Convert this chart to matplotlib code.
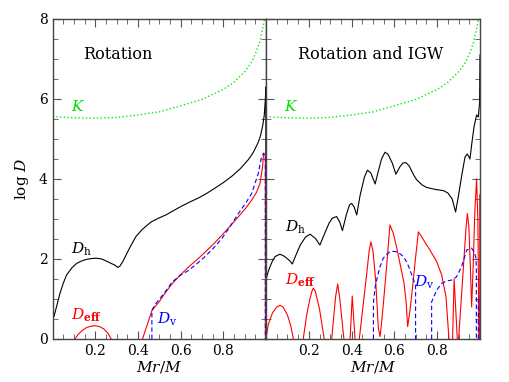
import numpy as np
import matplotlib
matplotlib.use("Agg")
import matplotlib.pyplot as plt
from matplotlib.ticker import MultipleLocator

plt.rcParams['font.family'] = ['DejaVu Serif']
plt.rcParams['mathtext.fontset'] = 'dejavuserif'

nan = np.nan

# thermal diffusivity K (same in both panels)
k_x = [0, 0.1, 0.2, 0.3, 0.4, 0.5, 0.6, 0.7, 0.8, 0.85, 0.9, 0.93, 0.95, 0.97, 0.98, 0.99, 0.995]
k_y = [5.56, 5.53, 5.52, 5.54, 5.6, 5.68, 5.83, 5.99, 6.24, 6.42, 6.68, 6.9, 7.12, 7.42, 7.65, 7.9, 8.05]

# --- left panel: rotation only ---
dh_rot_x = [0, 0.006, 0.02, 0.034, 0.05, 0.065, 0.09, 0.112, 0.135, 0.158, 0.18, 0.205, 0.23,
            0.251, 0.27, 0.29, 0.305, 0.315, 0.33, 0.344, 0.365, 0.39, 0.42, 0.453, 0.46, 0.47,
            0.5, 0.53, 0.57, 0.607, 0.645, 0.685, 0.725, 0.763, 0.8, 0.84, 0.88, 0.918, 0.94,
            0.964, 0.975, 0.985, 0.992, 0.997, 0.999, 1.0]
dh_rot_y = [0.89, 0.56, 0.85, 1.14, 1.4, 1.6, 1.78, 1.89, 1.95, 1.99, 2.01, 2.02, 2.0,
            1.95, 1.9, 1.85, 1.79, 1.82, 1.95, 2.1, 2.32, 2.56, 2.74, 2.89, 2.92, 2.95,
            3.03, 3.1, 3.22, 3.33, 3.43, 3.53, 3.65, 3.78, 3.91, 4.07, 4.26, 4.49, 4.66,
            4.92, 5.1, 5.35, 5.6, 6.0, 6.3, 1.4]

deff_rot_x = [0.104, 0.12, 0.14, 0.16, 0.18, 0.2, 0.22, 0.24, 0.26, 0.274, nan,
              0.421, 0.465, 0.499, 0.53, 0.561, 0.6, 0.639, 0.68, 0.716, 0.755, 0.794, 0.83,
              0.871, 0.905, 0.933, 0.955, 0.972, 0.984, 0.988, 0.997, 0.997]
deff_rot_y = [0, 0.12, 0.22, 0.29, 0.32, 0.33, 0.31, 0.25, 0.14, 0, nan,
              0, 0.71, 0.93, 1.17, 1.39, 1.61, 1.81, 2.0, 2.18, 2.38, 2.6, 2.81,
              3.06, 3.27, 3.475, 3.66, 3.89, 4.31, 4.6, 4.6, 0]

dv_rot_x = [0.465, 0.465, 0.484, 0.522, 0.561, 0.6, 0.639, 0.68, 0.716, 0.755, 0.794, 0.83,
            0.871, 0.905, 0.933, 0.964, 0.979, 0.99, 0.997, 0.997]
dv_rot_y = [0, 0.72, 0.89, 1.14, 1.43, 1.6, 1.72, 1.9, 2.07, 2.28, 2.52, 2.8,
            3.14, 3.4, 3.64, 4.14, 4.56, 4.65, 4.5, 0]

# --- right panel: rotation + internal gravity waves ---
dh_igw_x = [0, 0.01, 0.019, 0.03, 0.042, 0.065, 0.085, 0.097, 0.112, 0.123, 0.14, 0.16, 0.185,
            0.206, 0.23, 0.252, 0.275, 0.295, 0.31, 0.33, 0.345, 0.357, 0.375, 0.39, 0.40,
            0.412, 0.424, 0.44, 0.46, 0.474, 0.49, 0.51, 0.525, 0.54, 0.556, 0.57, 0.59,
            0.607, 0.625, 0.64, 0.654, 0.67, 0.69, 0.704, 0.73, 0.75, 0.79, 0.829, 0.85,
            0.87, 0.886, 0.9, 0.915, 0.93, 0.941, 0.953, 0.962, 0.972, 0.984, 0.992, 0.998, 1.0]
dh_igw_y = [1.48, 1.68, 1.81, 1.95, 2.06, 2.12, 2.07, 2.02, 1.95, 1.875, 2.1, 2.35, 2.55,
            2.62, 2.52, 2.35, 2.65, 2.9, 3.02, 3.06, 2.92, 2.71, 3.1, 3.35, 3.39,
            3.3, 3.1, 3.6, 4.05, 4.22, 4.15, 3.875, 4.2, 4.5, 4.67, 4.62, 4.4,
            4.12, 4.3, 4.4, 4.41, 4.32, 4.1, 3.98, 3.85, 3.79, 3.74, 3.71, 3.65,
            3.5, 3.175, 3.6, 4.1, 4.55, 4.625, 4.5, 4.9, 5.3, 5.6, 5.55, 5.9, 7.1]

deff_igw_x = [0, 0.01, 0.03, 0.05, 0.065, 0.08, 0.1, 0.115, 0.128, nan,
              0.174, 0.19, 0.205, 0.215, 0.221, 0.23, 0.25, 0.272, nan,
              0.307, 0.325, 0.335, 0.345, 0.364, nan,
              0.393, 0.403, 0.416, nan,
              0.436, 0.455, 0.47, 0.482, 0.49, 0.5, 0.512, 0.525, 0.533, 0.54, 0.55, 0.565,
              0.579, 0.595, 0.61, 0.626, 0.645, 0.655, 0.662, 0.673, 0.685, 0.696, 0.712,
              0.727, 0.745, 0.766, 0.798, 0.821, 0.841, 0.855, nan,
              0.872, 0.879, 0.894, nan,
              0.9, 0.92, 0.935, 0.941, 0.948, 0.955, 0.961, 0.968, 0.976, 0.984, 0.99, 0.995, nan,
              0.999, 0.999]
deff_igw_y = [0, 0.35, 0.65, 0.8, 0.84, 0.8, 0.6, 0.35, 0, nan,
              0, 0.6, 1.0, 1.2, 1.27, 1.2, 0.75, 0, nan,
              0, 1.05, 1.375, 1.0, 0, nan,
              0, 1.075, 0, nan,
              0, 0.9, 1.6, 2.2, 2.43, 2.2, 1.5, 0.27, 0.06, 0.4, 0.975, 1.9,
              2.85, 2.64, 2.3, 1.89, 1.4, 0.9, 0.31, 0.725, 1.3, 1.89, 2.68,
              2.56, 2.4, 2.225, 1.93, 1.6, 1.06, 0, nan,
              0, 1.5, 0, nan,
              0, 1.6, 2.8, 3.14, 2.8, 1.8, 0.8, 1.8, 3.2, 4.0, 3.0, 0, nan,
              0, 3.6]

dv_igw_x = [0.502, 0.502, 0.51, 0.517, 0.532, 0.548, 0.565, 0.579, 0.595, 0.61, 0.626, 0.642,
            0.658, 0.673, 0.692, 0.699, 0.699, nan,
            0.774, 0.774, 0.798, 0.821, 0.845, 0.868, 0.89, 0.914, 0.938, 0.961, 0.975,
            0.981, 0.983, 0.983, nan,
            0.992, 0.992]
dv_igw_y = [0, 0.9, 1.3, 1.475, 1.8, 2.02, 2.12, 2.18, 2.19, 2.18, 2.13, 2.06,
            1.92, 1.725, 1.43, 1.35, 0, nan,
            0, 0.93, 1.225, 1.39, 1.45, 1.475, 1.55, 1.81, 2.225, 2.27, 2.15,
            2.02, 1.8, 0, nan,
            0, 1.0]

fig = plt.figure(figsize=(5.1, 3.82), dpi=100)
ax1 = fig.add_axes([52.7 / 510, 43 / 382, 213.3 / 510, 320 / 382])
ax2 = fig.add_axes([266 / 510, 43 / 382, 214 / 510, 320 / 382])

lw = 0.8
for ax in (ax1, ax2):
    ax.set_xlim(0, 1)
    ax.set_ylim(0, 8)
    ax.xaxis.set_major_locator(MultipleLocator(0.2))
    ax.xaxis.set_minor_locator(MultipleLocator(0.05))
    ax.yaxis.set_major_locator(MultipleLocator(2))
    ax.yaxis.set_minor_locator(MultipleLocator(0.5))
    ax.tick_params(which='both', direction='in', top=True, right=True,
                   labelsize=10, color='#555555')
    ax.tick_params(which='major', length=6, width=0.8)
    ax.tick_params(which='minor', length=3.5, width=0.6)
    for s in ax.spines.values():
        s.set_linewidth(1.0)
        s.set_color('#444444')
    ax.set_xticks([0.2, 0.4, 0.6, 0.8])
    ax.set_xticklabels(['0.2', '0.4', '0.6', '0.8'])
    ax.set_xlabel('$Mr/M$', fontsize=11, labelpad=1)
    ax.plot(k_x, k_y, color='#00ee00', linestyle=':', lw=1.0)
    ax.text(0.085, 5.71, '$K$', color='#00dd00', fontsize=11)

ax1.set_ylabel('log $D$', fontsize=11, labelpad=6)
ax2.tick_params(labelleft=False)

ax1.plot(dh_rot_x, dh_rot_y, color='black', lw=lw)
ax1.plot(deff_rot_x, deff_rot_y, color='red', lw=lw)
ax1.plot(dv_rot_x, dv_rot_y, color='blue', lw=lw, linestyle='--', dashes=(4, 2.5))
ax1.text(0.142, 6.99, 'Rotation', fontsize=11.5)
ax1.text(0.084, 2.14, r'$D_{\rm h}$', fontsize=11)
ax1.text(0.084, 0.49, r'$D_{\bf eff}$', color='red', fontsize=11)
ax1.text(0.487, 0.39, r'$D_{\rm v}$', color='blue', fontsize=11)

ax2.plot(dh_igw_x, dh_igw_y, color='black', lw=lw)
ax2.plot(deff_igw_x, deff_igw_y, color='red', lw=lw)
ax2.plot(dv_igw_x, dv_igw_y, color='blue', lw=lw, linestyle='--', dashes=(4, 2.5))
ax2.text(0.148, 6.99, 'Rotation and IGW', fontsize=11.5)
ax2.text(0.089, 2.68, r'$D_{\rm h}$', fontsize=11)
ax2.text(0.089, 1.35, r'$D_{\bf eff}$', color='red', fontsize=11)
ax2.text(0.692, 1.31, r'$D_{\rm v}$', color='blue', fontsize=11)

fig.savefig('out.png', dpi=100)
